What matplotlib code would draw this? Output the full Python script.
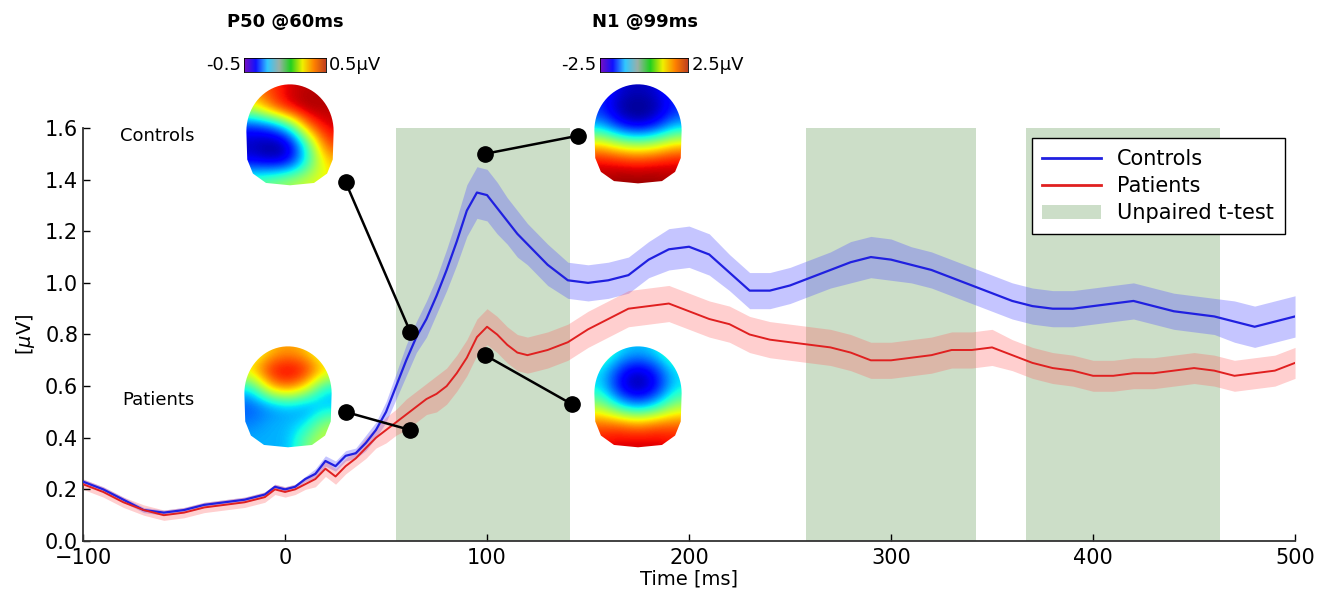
import matplotlib
matplotlib.use("Agg")
import matplotlib.pyplot as plt
import numpy as np
from matplotlib.path import Path
from matplotlib.patches import PathPatch, Patch
from matplotlib.colors import LinearSegmentedColormap
from matplotlib.lines import Line2D

# time axis [ms]
time_ms = [-100, -90, -80, -70, -60, -50, -40, -30, -20, -10, -5, 0, 5, 10, 15, 20, 25, 30,
           35, 40, 45, 50, 55, 60, 65, 70, 75, 80, 85, 90, 95, 100, 105, 110, 115, 120, 130,
           140, 150, 160, 170, 180, 190, 200, 210, 220, 230, 240, 250, 260, 270, 280, 290,
           300, 310, 320, 330, 340, 350, 360, 370, 380, 390, 400, 410, 420, 430, 440, 450,
           460, 470, 480, 490, 500]

controls = [0.23, 0.20, 0.16, 0.12, 0.11, 0.12, 0.14, 0.15, 0.16, 0.18, 0.21, 0.20, 0.21, 0.24,
            0.26, 0.31, 0.29, 0.33, 0.34, 0.38, 0.43, 0.50, 0.60, 0.70, 0.79, 0.86, 0.95, 1.05,
            1.16, 1.28, 1.35, 1.34, 1.29, 1.24, 1.19, 1.15, 1.07, 1.01, 1.00, 1.01, 1.03, 1.09,
            1.13, 1.14, 1.11, 1.04, 0.97, 0.97, 0.99, 1.02, 1.05, 1.08, 1.10, 1.09, 1.07, 1.05,
            1.02, 0.99, 0.96, 0.93, 0.91, 0.90, 0.90, 0.91, 0.92, 0.93, 0.91, 0.89, 0.88, 0.87,
            0.85, 0.83, 0.85, 0.87]
controls_err = [0.01, 0.01, 0.01, 0.01, 0.01, 0.01, 0.01, 0.01, 0.01, 0.01, 0.01, 0.01, 0.01,
                0.01, 0.02, 0.02, 0.02, 0.02, 0.02, 0.03, 0.03, 0.04, 0.05, 0.06, 0.06, 0.07,
                0.07, 0.08, 0.09, 0.10, 0.10, 0.10, 0.10, 0.09, 0.09, 0.08, 0.08, 0.07, 0.07,
                0.07, 0.07, 0.07, 0.08, 0.08, 0.08, 0.07, 0.07, 0.07, 0.07, 0.07, 0.07, 0.08,
                0.08, 0.08, 0.07, 0.07, 0.07, 0.07, 0.07, 0.07, 0.07, 0.07, 0.07, 0.07, 0.07,
                0.07, 0.07, 0.07, 0.07, 0.07, 0.08, 0.08, 0.08, 0.08]

patients = [0.22, 0.19, 0.15, 0.12, 0.10, 0.11, 0.13, 0.14, 0.15, 0.17, 0.20, 0.19, 0.20, 0.22,
            0.24, 0.28, 0.25, 0.29, 0.32, 0.36, 0.40, 0.43, 0.46, 0.49, 0.52, 0.55, 0.57, 0.60,
            0.65, 0.71, 0.79, 0.83, 0.80, 0.76, 0.73, 0.72, 0.74, 0.77, 0.82, 0.86, 0.90, 0.91,
            0.92, 0.89, 0.86, 0.84, 0.80, 0.78, 0.77, 0.76, 0.75, 0.73, 0.70, 0.70, 0.71, 0.72,
            0.74, 0.74, 0.75, 0.72, 0.69, 0.67, 0.66, 0.64, 0.64, 0.65, 0.65, 0.66, 0.67, 0.66,
            0.64, 0.65, 0.66, 0.69]
patients_err = [0.02, 0.02, 0.02, 0.02, 0.02, 0.02, 0.02, 0.02, 0.02, 0.02, 0.02, 0.02, 0.02,
                0.02, 0.03, 0.03, 0.03, 0.03, 0.03, 0.04, 0.04, 0.05, 0.05, 0.06, 0.06, 0.06,
                0.07, 0.07, 0.07, 0.07, 0.07, 0.07, 0.07, 0.07, 0.07, 0.07, 0.07, 0.07, 0.07,
                0.07, 0.07, 0.07, 0.07, 0.07, 0.07, 0.07, 0.07, 0.07, 0.07, 0.07, 0.07, 0.07,
                0.07, 0.07, 0.07, 0.07, 0.07, 0.07, 0.07, 0.06, 0.06, 0.06, 0.06, 0.06, 0.06,
                0.06, 0.06, 0.06, 0.06, 0.06, 0.06, 0.06, 0.06, 0.06]

# significant windows (unpaired t-test)
sig_windows = [(55, 141), (258, 342), (367, 463)]

# connectors: (topomap end, curve end)
connectors = [((30, 1.39), (62, 0.81)),
              ((30, 0.50), (62, 0.43)),
              ((99, 1.50), (145, 1.57)),
              ((99, 0.72), (142, 0.53))]

# coarse topography grids (rows = front to back), values normalised -1..1
topo_ctrl_p50 = [[0.5, 0.7, 0.85, 0.9, 0.9],
                 [0.2, 0.6, 0.85, 0.95, 0.9],
                 [-0.7, -0.6, -0.2, 0.6, 0.85],
                 [-0.9, -1.0, -0.9, -0.1, 0.7],
                 [-0.8, -0.9, -0.8, -0.2, 0.4],
                 [-0.1, 0.0, 0.1, 0.2, 0.3]]
topo_ctrl_n1 = [[-0.6, -0.85, -0.9, -0.85, -0.6],
                [-0.7, -0.95, -1.0, -0.95, -0.7],
                [-0.4, -0.75, -0.9, -0.75, -0.4],
                [0.3, 0.1, 0.0, 0.1, 0.3],
                [0.8, 0.75, 0.7, 0.75, 0.8],
                [0.9, 0.95, 0.95, 0.95, 0.9]]
topo_pat_p50 = [[0.1, 0.4, 0.5, 0.4, 0.1],
                [0.4, 0.8, 0.9, 0.8, 0.4],
                [-0.3, 0.4, 0.6, 0.3, -0.3],
                [-0.6, -0.5, -0.4, -0.5, -0.4],
                [-0.5, -0.4, -0.4, -0.3, 0.1],
                [-0.4, -0.4, -0.4, 0.0, 0.2]]
topo_pat_n1 = [[0.0, -0.3, -0.4, -0.3, 0.0],
               [-0.3, -0.7, -0.9, -0.7, -0.3],
               [-0.3, -0.8, -1.0, -0.8, -0.3],
               [0.1, -0.3, -0.5, -0.3, 0.1],
               [0.6, 0.6, 0.5, 0.6, 0.6],
               [0.8, 0.85, 0.85, 0.85, 0.8]]

bar_cmap = LinearSegmentedColormap.from_list(
    "bar", ["#7a10c0", "#1010ff", "#30c8ff", "#9ab0a8", "#20d020", "#f0f000", "#ff8000", "#c04020"])


def head_path():
    a = np.linspace(0, np.pi, 40)
    top = np.column_stack([np.cos(a), 0.15 + np.sin(a)])
    bottom = np.array([[-1.0, 0.15], [-0.98, -0.45], [-0.85, -0.75], [-0.55, -0.95],
                       [0.0, -1.0], [0.55, -0.95], [0.85, -0.75], [0.98, -0.45], [1.0, 0.15]])
    verts = np.vstack([top, bottom[1:]])
    return Path(verts, closed=False)


def draw_topo(fig, rect, grid):
    ax = fig.add_axes(rect)
    im = ax.imshow(np.array(grid), cmap="jet", vmin=-1, vmax=1, interpolation="bicubic",
                   extent=[-1.05, 1.05, -1.05, 1.2], aspect="auto")
    patch = PathPatch(head_path(), transform=ax.transData, facecolor="none", edgecolor="none")
    ax.add_patch(patch)
    im.set_clip_path(patch)
    ax.set_xlim(-1.1, 1.1)
    ax.set_ylim(-1.1, 1.2)
    ax.axis("off")


def draw_bar(fig, rect, lo, hi):
    ax = fig.add_axes(rect)
    ax.imshow(np.linspace(0, 1, 256)[None, :], cmap=bar_cmap, aspect="auto")
    ax.set_xticks([])
    ax.set_yticks([])
    for s in ax.spines.values():
        s.set_linewidth(0.6)
    ax.text(-0.04, 0.5, lo, transform=ax.transAxes, ha="right", va="center", fontsize=13)
    ax.text(1.04, 0.5, hi, transform=ax.transAxes, ha="left", va="center", fontsize=13)


fig = plt.figure(figsize=(13.2, 5.97), dpi=100)
ax = fig.add_axes([0.0629, 0.0938, 0.9182, 0.6918])

for a, b in sig_windows:
    ax.axvspan(a, b, color="#4a8a3a", alpha=0.28, lw=0, zorder=0)

t = np.array(time_ms)
c = np.array(controls)
ce = np.array(controls_err)
p = np.array(patients)
pe = np.array(patients_err)

ax.fill_between(t, c - ce, c + ce, color="#5a5aff", alpha=0.35, lw=0, zorder=1)
ax.fill_between(t, p - pe, p + pe, color="#ff6060", alpha=0.3, lw=0, zorder=1)
ax.plot(t, c, color="#2020e0", lw=1.6, zorder=3)
ax.plot(t, p, color="#e02020", lw=1.4, zorder=3)

for (x0, y0), (x1, y1) in connectors:
    ax.plot([x0, x1], [y0, y1], color="black", lw=1.8, marker="o", ms=11, zorder=5,
            clip_on=False)

ax.set_xlim(-100, 500)
ax.set_ylim(0, 1.6)
ax.set_xticks([-100, 0, 100, 200, 300, 400, 500])
ax.set_yticks([0.0, 0.2, 0.4, 0.6, 0.8, 1.0, 1.2, 1.4, 1.6])
ax.set_yticklabels(["0.0", "0.2", "0.4", "0.6", "0.8", "1.0", "1.2", "1.4", "1.6"])
ax.tick_params(direction="in", labelsize=15, length=5, width=1)
ax.tick_params(axis="x", pad=5)
ax.spines["top"].set_visible(False)
ax.spines["right"].set_visible(False)
for s in ["left", "bottom"]:
    ax.spines[s].set_linewidth(1.3)
    ax.spines[s].set_color("#333333")
ax.set_xlabel("Time [ms]", fontsize=14, labelpad=1)
ax.set_ylabel(r"[$\mu$V]", fontsize=14, labelpad=6)

handles = [Line2D([], [], color="#2020e0", lw=2),
           Line2D([], [], color="#e02020", lw=2),
           Patch(facecolor="#4a8a3a", alpha=0.28)]
leg = ax.legend(handles, ["Controls", "Patients", "Unpaired t-test"], loc="upper right",
                bbox_to_anchor=(1.0, 1.0), fontsize=15, fancybox=False, framealpha=1,
                handlelength=2.8, borderpad=0.5, labelspacing=0.35)
leg.get_frame().set_edgecolor("black")
leg.get_frame().set_linewidth(1.0)

W, H = 1320.0, 597.0
fig.text(120 / W, 1 - 136 / H, "Controls", fontsize=13, ha="left", va="center")
fig.text(122 / W, 1 - 400 / H, "Patients", fontsize=13, ha="left", va="center")

draw_topo(fig, [242 / W, 1 - 190 / H, 96 / W, 108 / H], topo_ctrl_p50)
draw_topo(fig, [590 / W, 1 - 188 / H, 96 / W, 106 / H], topo_ctrl_n1)
draw_topo(fig, [240 / W, 1 - 452 / H, 96 / W, 108 / H], topo_pat_p50)
draw_topo(fig, [590 / W, 1 - 452 / H, 96 / W, 108 / H], topo_pat_n1)

fig.text(285 / W, 1 - 22 / H, "P50 @60ms", fontsize=13, fontweight="bold", ha="center", va="center")
fig.text(645 / W, 1 - 22 / H, "N1 @99ms", fontsize=13, fontweight="bold", ha="center", va="center")
draw_bar(fig, [244 / W, 1 - 72 / H, 82 / W, 14 / H], "-0.5", "0.5\u03bcV")
draw_bar(fig, [600 / W, 1 - 72 / H, 88 / W, 14 / H], "-2.5", "2.5\u03bcV")

fig.savefig("out.png", dpi=100)
